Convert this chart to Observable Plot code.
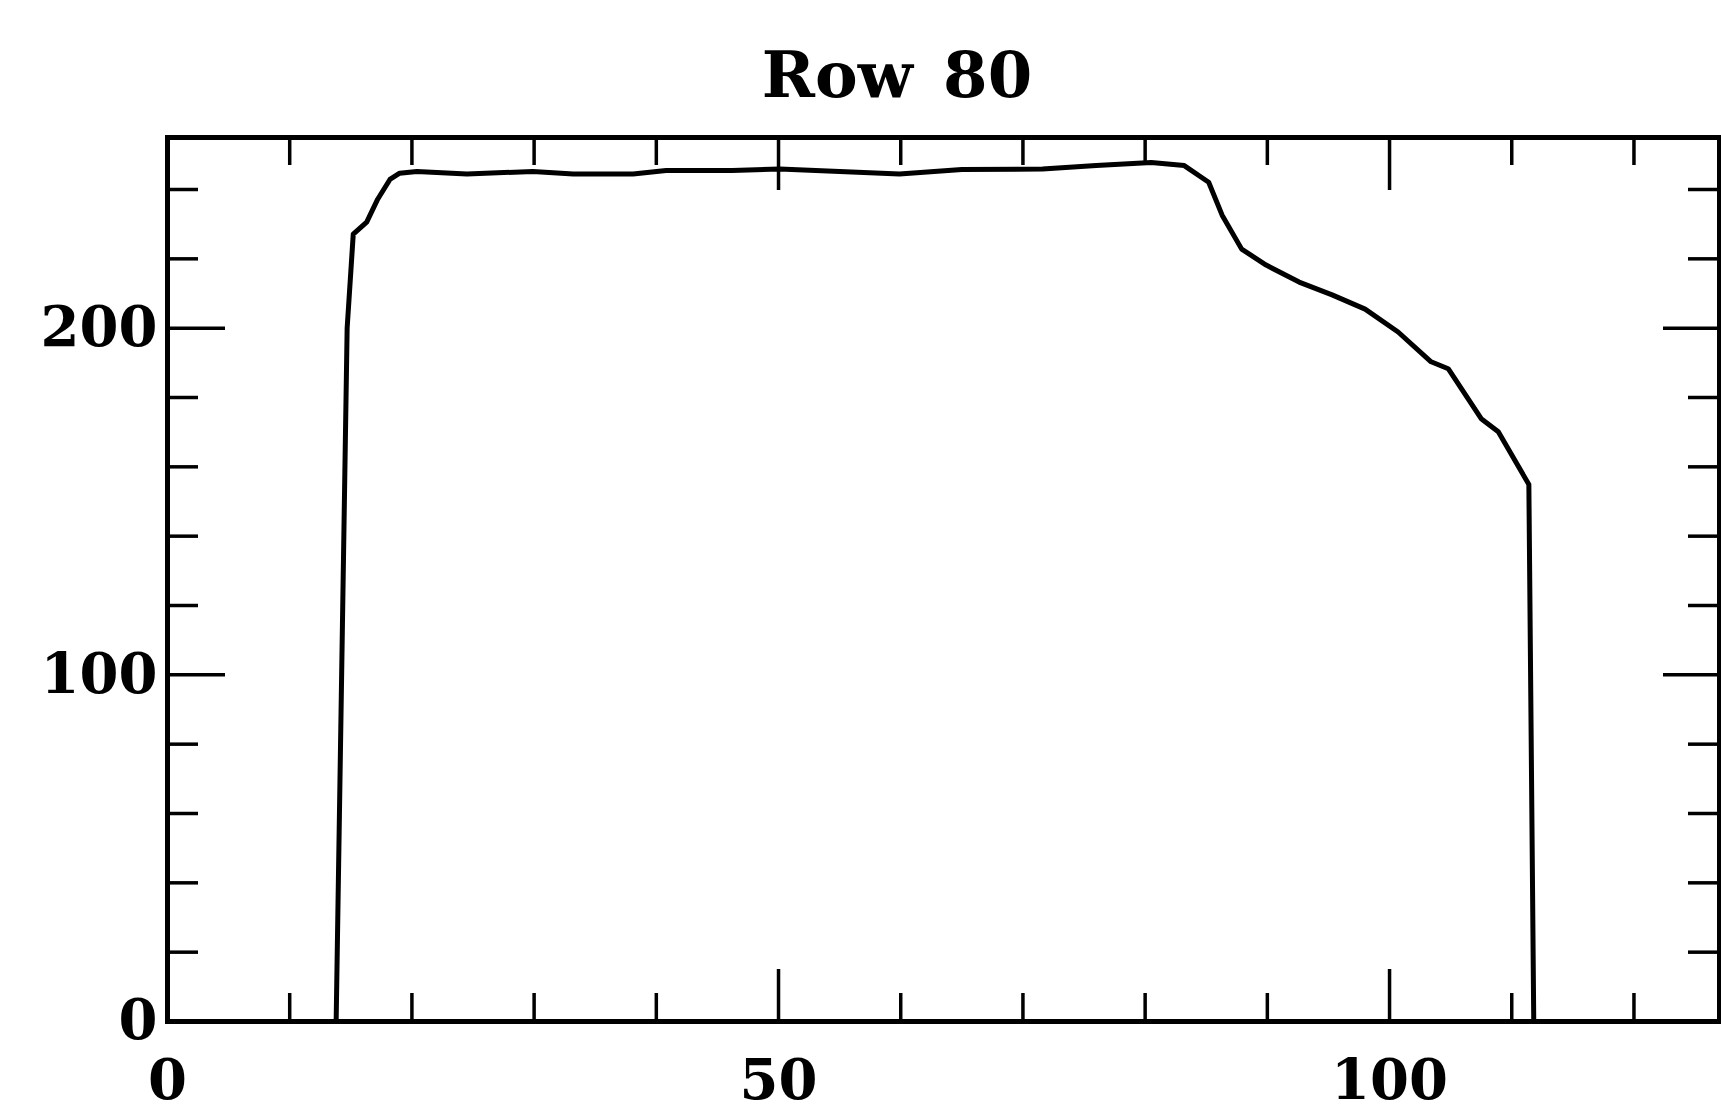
<!DOCTYPE html>
<html><head><meta charset="utf-8">
<script src="https://cdn.jsdelivr.net/npm/d3@7"></script>
<script src="https://cdn.jsdelivr.net/npm/@observablehq/plot@0.6"></script>
<style>
body{margin:0;background:#fff;width:1721px;height:1112px;overflow:hidden;position:relative;}
#title{position:absolute;left:897px;top:43px;transform:translateX(-50%);font:bold 64px "DejaVu Serif";line-height:64px;white-space:nowrap;word-spacing:8px;color:#000;}
#chart{position:absolute;left:0;top:110px;}
</style></head><body>
<div id="title"></div>
<div id="chart"></div>
<script>
const titleText = "Row 80";
// column index along the row and pixel value
const columns = [13.8, 14.7, 15.2, 16.3, 17.2, 18.2, 19.0, 20.4, 24.5, 29.9, 33.2, 38.1, 40.8, 46.2, 50.1, 55.0, 59.9, 65.0, 71.6, 76.0, 80.5, 83.2, 85.2, 86.3, 87.9, 89.9, 92.6, 95.3, 98.0, 100.7, 103.4, 104.8, 107.5, 108.9, 111.4, 111.8];
const values  = [0, 200, 227.1, 230.6, 237.2, 242.9, 244.7, 245.2, 244.5, 245.2, 244.5, 244.5, 245.5, 245.5, 245.9, 245.2, 244.5, 245.8, 245.9, 246.9, 247.8, 246.9, 242.1, 232.6, 222.8, 218.2, 213.3, 209.6, 205.5, 198.9, 190.3, 188.3, 173.9, 170.1, 154.9, 0];
const xMajor = [0, 50, 100];
const xMinor = [10, 20, 30, 40, 60, 70, 80, 90, 110, 120];
const yMajor = [0, 100, 200];
const yMinor = [20, 40, 60, 80, 120, 140, 160, 180, 220, 240];
const xLabels = ["0", "50", "100"];
const yLabels = ["0", "100", "200"];

document.getElementById("title").textContent = titleText;

const W = 1721, H = 1002, mt = 27, mb = 91, ml = 167, mr = 2;
const fh = H - mt - mb, fw = W - ml - mr;
const data = columns.map((x, i) => ({x, y: values[i]}));

const plot = Plot.plot({
  width: W, height: H,
  marginTop: mt, marginBottom: mb, marginLeft: ml, marginRight: mr,
  x: {domain: [0, 127]},
  y: {domain: [0, 255]},
  style: {background: "white", color: "black", fontFamily: "DejaVu Serif", fontWeight: "bold", fontSize: "56px"},
  marks: [
    Plot.axisX(xMajor, {tickSize: 0, tickPadding: 38, label: null, tickFormat: d => xLabels[xMajor.indexOf(d)], fontSize: 56, fontWeight: "bold"}),
    Plot.axisY(yMajor, {tickSize: 0, tickPadding: 10, label: null, tickFormat: d => yLabels[yMajor.indexOf(d)], fontSize: 56, fontWeight: "bold"}),
    // bottom ticks
    Plot.tickX(xMinor, {x: d => d, insetTop: fh - 28, stroke: "black", strokeWidth: 3.5}),
    Plot.tickX(xMajor, {x: d => d, insetTop: fh - 52, stroke: "black", strokeWidth: 3.5}),
    // top ticks
    Plot.tickX(xMinor, {x: d => d, insetBottom: fh - 28, stroke: "black", strokeWidth: 3.5}),
    Plot.tickX(xMajor, {x: d => d, insetBottom: fh - 53, stroke: "black", strokeWidth: 3.5}),
    // left ticks
    Plot.tickY(yMinor, {y: d => d, insetRight: fw - 31, stroke: "black", strokeWidth: 3.5}),
    Plot.tickY(yMajor, {y: d => d, insetRight: fw - 58, stroke: "black", strokeWidth: 3.5}),
    // right ticks
    Plot.tickY(yMinor, {y: d => d, insetLeft: fw - 31, stroke: "black", strokeWidth: 3.5}),
    Plot.tickY(yMajor, {y: d => d, insetLeft: fw - 56, stroke: "black", strokeWidth: 3.5}),
    Plot.frame({stroke: "black", strokeWidth: 5}),
    Plot.line(data, {x: "x", y: "y", stroke: "black", strokeWidth: 5, strokeLinejoin: "round"})
  ]
});
document.getElementById("chart").appendChild(plot);
</script>
</body></html>
